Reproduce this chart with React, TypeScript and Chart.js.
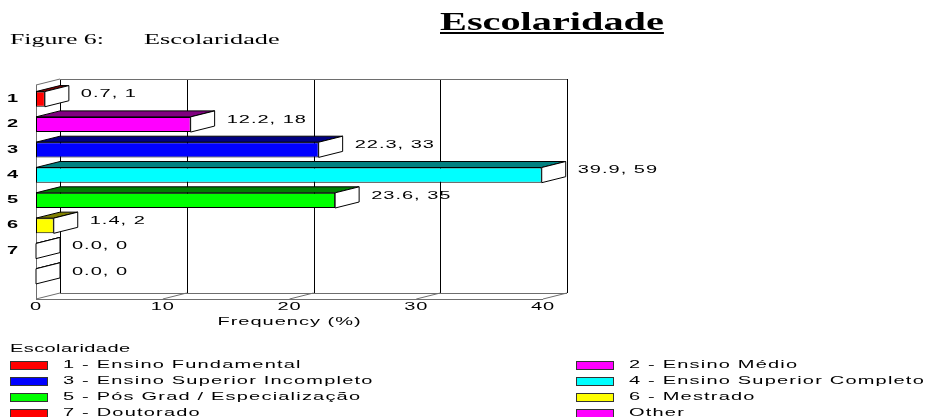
import React, { useEffect, useRef } from "react";
import { Chart, registerables } from "chart.js";

Chart.register(...registerables);

// ---- data ----
const categories = ["1", "2", "3", "4", "5", "6", "7", ""];
const percents = [0.7, 12.2, 22.3, 39.9, 23.6, 1.4, 0.0, 0.0];
const counts = [1, 18, 33, 59, 35, 2, 0, 0];
const frontColors = ["#FF0000", "#FF00FF", "#0000FF", "#00FFFF", "#00FF00", "#FFFF00", "#FF0000", "#FF00FF"];
const topColors = ["#800000", "#800080", "#000080", "#008080", "#008000", "#808000", "#800000", "#800080"];
const legendLabels = [
  "1 - Ensino Fundamental",
  "2 - Ensino Médio",
  "3 - Ensino Superior Incompleto",
  "4 - Ensino Superior Completo",
  "5 - Pós Grad / Especialização",
  "6 - Mestrado",
  "7 - Doutorado",
  "Other",
];
const xTicks = [0, 10, 20, 30, 40];
const chartTitle = "Escolaridade";
const captionLabel = "Figure 6:";
const captionText = "Escolaridade";
const legendTitle = "Escolaridade";
const xAxisTitle = "Frequency (%)";

// ---- style constants ----
const SANS = "'Liberation Sans', Arial, sans-serif";
const SERIF = "'Liberation Serif', 'Times New Roman', serif";
const SX = 2; // horizontal text stretch
const LS = "0.5px";
const DX = 24;
const DY = -6;

const threeD = {
  id: "threeD",
  beforeDatasetsDraw(chart: any) {
    const { ctx, chartArea: ca } = chart;
    const x = chart.scales.x;
    const x0 = x.getPixelForValue(xTicks[0]);
    const x1 = x.getPixelForValue(xTicks[xTicks.length - 1]);
    const top = ca.top - 1.5;
    const floor = ca.bottom + 10;
    const line = (a: number, b: number, c: number, d: number) => {
      ctx.beginPath();
      ctx.moveTo(a, b);
      ctx.lineTo(c, d);
      ctx.stroke();
    };
    ctx.save();
    ctx.lineWidth = 1;
    // back wall vertical grid lines
    ctx.strokeStyle = "#000";
    xTicks.forEach((v) => {
      const px = Math.round(x.getPixelForValue(v) + DX) + 0.5;
      line(px, top + DY, px, floor + DY);
    });
    ctx.strokeStyle = "#6e6e6e";
    // back wall top edge
    line(x0 + DX, top + DY + 0.5, x1 + DX, top + DY + 0.5);
    // left wall
    line(Math.round(x0) + 0.5, top, Math.round(x0) + 0.5, floor);
    line(x0, top, x0 + DX, top + DY);
    // floor
    line(x0, floor + 0.5, x1, floor + 0.5);
    line(x0 + DX, floor + DY + 0.5, x1 + DX, floor + DY + 0.5);
    xTicks.forEach((v) => {
      const px = x.getPixelForValue(v);
      line(px, floor, px + DX, floor + DY);
    });
    ctx.restore();
  },
  afterDatasetsDraw(chart: any) {
    const { ctx } = chart;
    const meta = chart.getDatasetMeta(0);
    ctx.save();
    ctx.lineWidth = 1;
    ctx.strokeStyle = "#000";
    meta.data.forEach((bar: any, i: number) => {
      const { x, y, base, height } = bar.getProps(["x", "y", "base", "height"], true);
      const t = y - height / 2;
      const b = y + height / 2;
      // top face
      ctx.beginPath();
      ctx.moveTo(base, t);
      ctx.lineTo(x, t);
      ctx.lineTo(x + DX, t + DY);
      ctx.lineTo(base + DX, t + DY);
      ctx.closePath();
      ctx.fillStyle = topColors[i];
      ctx.fill();
      ctx.stroke();
      // end face
      ctx.beginPath();
      ctx.moveTo(x, t);
      ctx.lineTo(x + DX, t + DY);
      ctx.lineTo(x + DX, b + DY);
      ctx.lineTo(x, b);
      ctx.closePath();
      ctx.fillStyle = "#fff";
      ctx.fill();
      ctx.stroke();
      // value label
      ctx.font = `10px ${SANS}`;
      ctx.fillStyle = "#000";
      ctx.textAlign = "left";
      ctx.textBaseline = "middle";
      ctx.fillText(`${percents[i].toFixed(1)}, ${counts[i]}`, x + DX + 12, y + DY + 1.5);
    });
    ctx.restore();
  },
};

export default function App() {
  const canvasRef = useRef<HTMLCanvasElement | null>(null);

  useEffect(() => {
    const canvas = canvasRef.current;
    if (!canvas) return;
    const ctx = canvas.getContext("2d") as any;
    const origFill = ctx.fillText.bind(ctx);
    ctx.fillText = function (text: string, px: number, py: number) {
      ctx.save();
      ctx.translate(px, py);
      ctx.scale(SX, 1);
      ctx.letterSpacing = LS;
      origFill(text, 0, 0);
      ctx.restore();
    };

    const chart = new Chart(canvas, {
      type: "bar",
      data: {
        labels: categories,
        datasets: [
          {
            data: percents,
            backgroundColor: frontColors,
            borderColor: "#000",
            borderWidth: 1,
            borderSkipped: false,
            barPercentage: 0.6,
            categoryPercentage: 1.0,
          },
        ],
      },
      options: {
        indexAxis: "y",
        animation: false,
        responsive: false,
        events: [],
        layout: { padding: { left: 0, top: 86.5, right: 383, bottom: 89 } },
        plugins: {
          legend: { display: false },
          title: { display: false },
          tooltip: { enabled: false },
        },
        scales: {
          x: {
            type: "linear",
            min: xTicks[0],
            max: xTicks[xTicks.length - 1],
            afterBuildTicks: (scale: any) => {
              scale.ticks = xTicks.map((v) => ({ value: v }));
            },
            afterFit: (scale: any) => {
              scale.height = 39;
            },
            grid: { display: false, drawTicks: false },
            border: { display: false },
            ticks: {
              color: "#000",
              font: { family: SANS, size: 10 },
              padding: 12,
              maxRotation: 0,
              autoSkip: false,
            },
            title: {
              display: true,
              text: xAxisTitle,
              color: "#000",
              font: { family: SANS, size: 10 },
              padding: 0,
            },
          },
          y: {
            type: "category",
            afterFit: (scale: any) => {
              scale.width = 36;
            },
            grid: { display: false, drawTicks: false },
            border: { display: false },
            ticks: {
              color: "#000",
              font: { family: SANS, size: 10, weight: "bold" },
              padding: 17,
              autoSkip: false,
            },
          },
        },
      },
      plugins: [threeD],
    } as any);

    return () => {
      chart.destroy();
    };
  }, []);

  const legendRowCenters = [365, 381, 397, 413];
  const colSwatchX = [10, 576];
  const colTextX = [63, 629];

  const sansText: React.CSSProperties = {
    position: "absolute",
    fontFamily: SANS,
    fontSize: 10,
    lineHeight: "10px",
    letterSpacing: "0.6px",
    whiteSpace: "nowrap",
    color: "#000",
    transform: `scaleX(${SX})`,
    transformOrigin: "left center",
  };

  return (
    <div
      style={{
        position: "fixed",
        left: 0,
        top: 0,
        width: 926,
        height: 417,
        background: "#fff",
        overflow: "hidden",
      }}
    >
      <canvas ref={canvasRef} width={926} height={417} style={{ position: "absolute", left: 0, top: 0 }} />
      <div
        style={{
          position: "absolute",
          left: 440,
          top: 8.7,
          fontFamily: SERIF,
          fontWeight: "bold",
          fontSize: 26,
          lineHeight: "26px",
          whiteSpace: "nowrap",
          textDecoration: "underline",
          textDecorationThickness: "2px",
          textUnderlineOffset: "2px",
          transform: "scaleX(1.55)",
          transformOrigin: "left center",
        }}
      >
        {chartTitle}
      </div>
      <div
        style={{
          position: "absolute",
          left: 10,
          top: 31.7,
          fontFamily: SERIF,
          fontSize: 15,
          lineHeight: "15px",
          whiteSpace: "nowrap",
          transform: "scaleX(1.72)",
          transformOrigin: "left center",
        }}
      >
        {captionLabel}
      </div>
      <div
        style={{
          position: "absolute",
          left: 144,
          top: 31.7,
          fontFamily: SERIF,
          fontSize: 15,
          lineHeight: "15px",
          whiteSpace: "nowrap",
          transform: "scaleX(1.75)",
          transformOrigin: "left center",
        }}
      >
        {captionText}
      </div>
      <div style={{ ...sansText, left: 10, top: 348.5 - 4.9, letterSpacing: "0.2px" }}>{legendTitle}</div>
      {legendLabels.map((label, i) => {
        const row = Math.floor(i / 2);
        const col = i % 2;
        const cy = legendRowCenters[row];
        return (
          <React.Fragment key={i}>
            <div
              style={{
                position: "absolute",
                left: colSwatchX[col],
                top: cy - 4.5,
                width: 38,
                height: 9,
                boxSizing: "border-box",
                background: frontColors[i],
                border: "1px solid #333",
              }}
            />
            <div style={{ ...sansText, left: colTextX[col], top: cy - 4.9 }}>{label}</div>
          </React.Fragment>
        );
      })}
    </div>
  );
}
